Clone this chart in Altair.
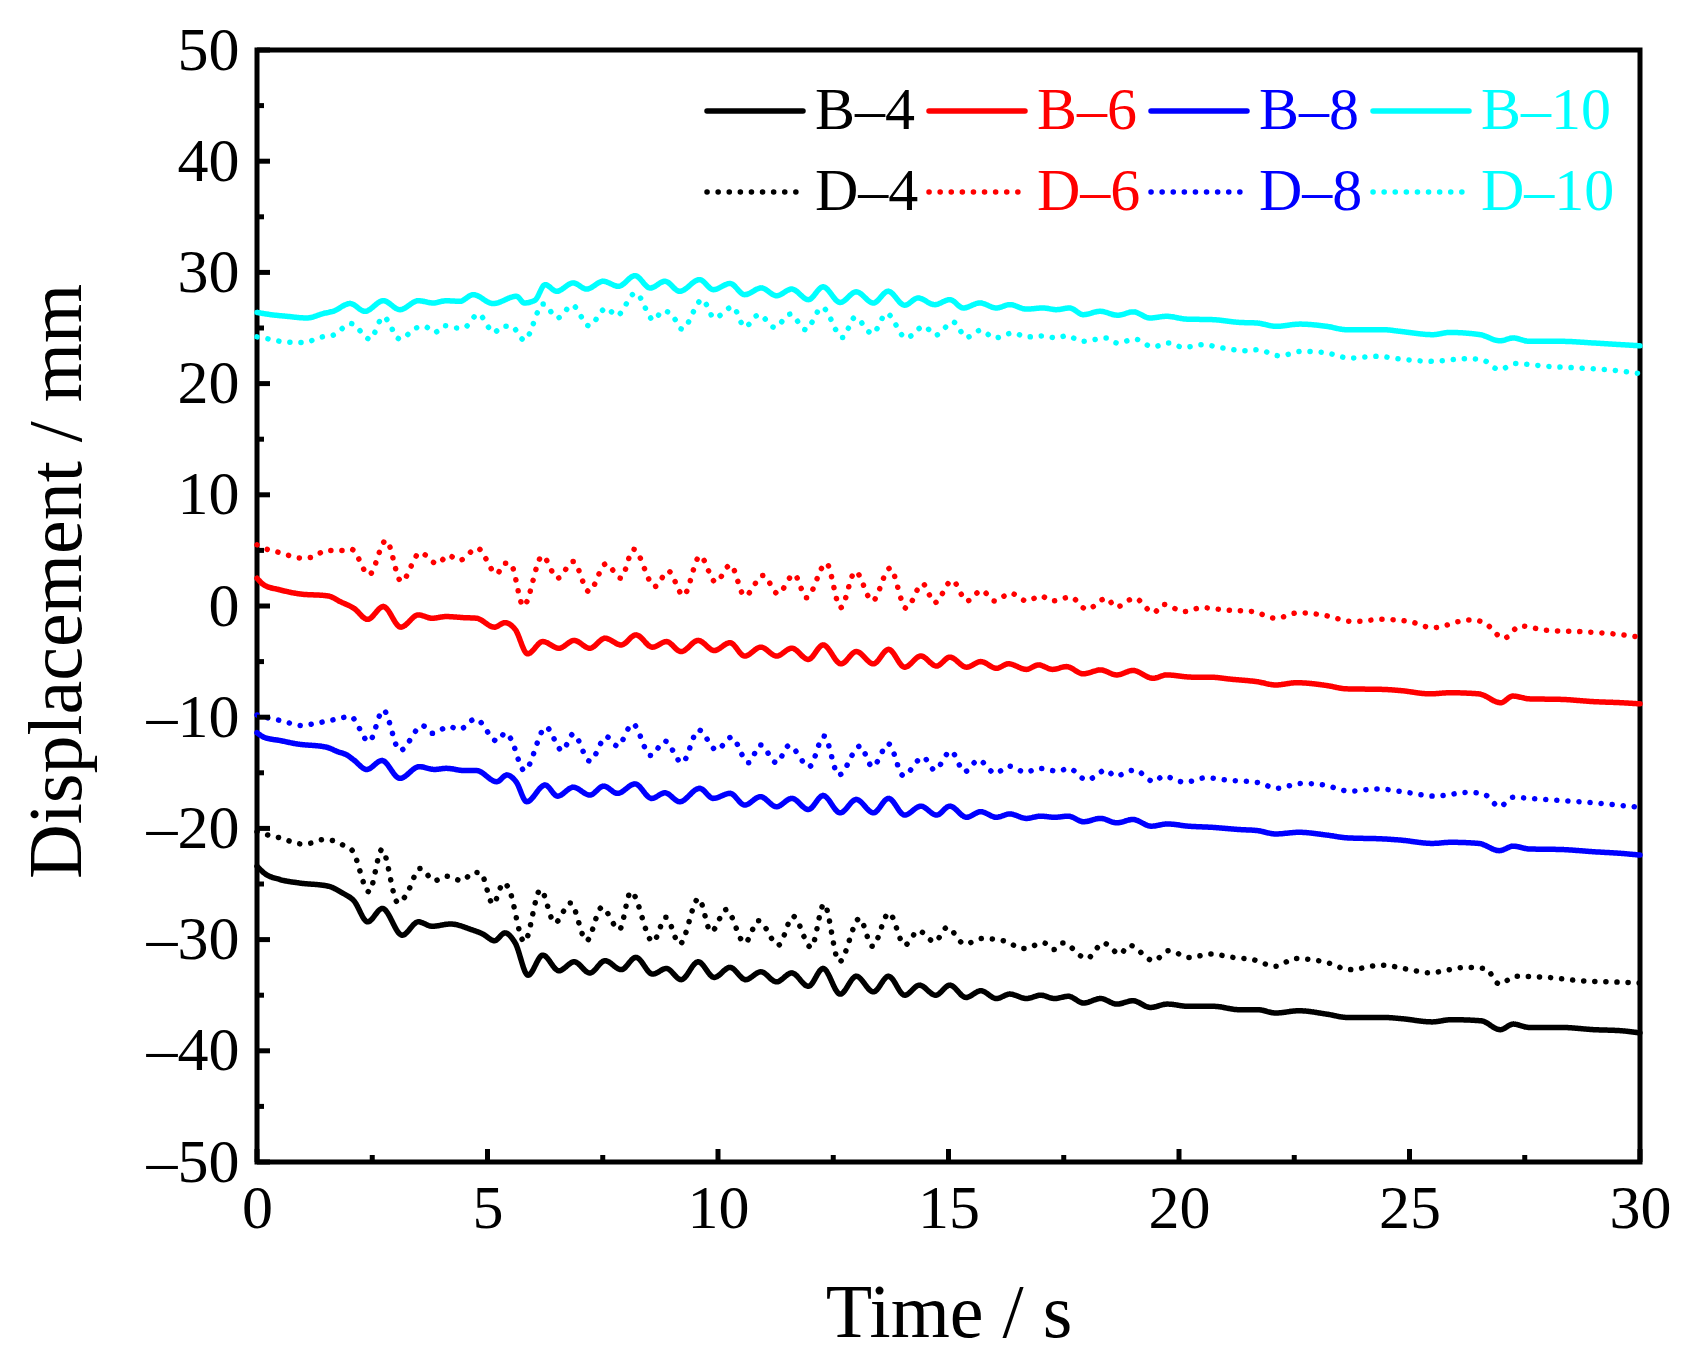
import altair as alt
import pandas as pd

# ---------------- data ----------------
series = ["B–4", "B–6", "B–8", "B–10", "D–4", "D–6", "D–8", "D–10"]
colors = ["#000000", "#FF0000", "#0000FF", "#00FFFF",
          "#000000", "#FF0000", "#0000FF", "#00FFFF"]

t_b4 = [0, 0.15, 0.5, 0.9, 1.55, 1.85, 2.1, 2.4, 2.72, 3.15, 3.5, 3.8, 4.2, 4.65, 4.9, 5.15, 5.38, 5.6,
        5.88, 6.2, 6.55, 6.88, 7.22, 7.55, 7.9, 8.22, 8.58, 8.88, 9.2, 9.57, 9.92, 10.26, 10.6, 10.93,
        11.27, 11.6, 11.96, 12.28, 12.65, 13.0, 13.37, 13.7, 14.05, 14.37, 14.72, 15.03, 15.38, 15.7,
        16.04, 16.33, 16.69, 17.0, 17.3, 17.6, 17.93, 18.3, 18.65, 19.0, 19.38, 19.75, 20.2, 20.75,
        21.3, 21.7, 22.1, 22.6, 23.2, 23.65, 24.45, 24.8, 25.5, 25.9, 26.55, 26.97, 27.25, 27.6, 28.3,
        29.0, 29.6, 30]
v_b4 = [-23.4, -24.0, -24.6, -24.9, -25.2, -25.8, -26.5, -28.4, -27.2, -29.6, -28.4, -28.8, -28.6,
        -29.1, -29.5, -30.1, -29.4, -30.3, -33.2, -31.4, -32.8, -32.0, -33.0, -31.9, -32.7, -31.6,
        -33.1, -32.6, -33.6, -32.0, -33.4, -32.5, -33.6, -32.9, -33.8, -33.0, -34.2, -32.6, -34.9,
        -33.3, -34.7, -33.3, -35.0, -34.1, -35.0, -34.1, -35.2, -34.6, -35.3, -34.9, -35.3, -35.0,
        -35.3, -35.1, -35.7, -35.3, -35.8, -35.5, -36.1, -35.8, -36.0, -36.0, -36.3, -36.3, -36.6,
        -36.4, -36.7, -37.0, -37.0, -37.1, -37.4, -37.2, -37.3, -38.1, -37.6, -37.9, -37.9, -38.1,
        -38.2, -38.4]

t_b6 = [0, 0.15, 0.5, 0.9, 1.55, 1.8, 2.1, 2.4, 2.74, 3.12, 3.5, 3.8, 4.1, 4.5, 4.76, 5.15, 5.38, 5.6,
        5.87, 6.2, 6.55, 6.88, 7.22, 7.55, 7.9, 8.22, 8.58, 8.88, 9.2, 9.57, 9.92, 10.26, 10.58, 10.93,
        11.27, 11.6, 11.96, 12.28, 12.67, 13.0, 13.37, 13.7, 14.05, 14.4, 14.74, 15.03, 15.39, 15.7,
        16.04, 16.3, 16.69, 16.95, 17.26, 17.56, 17.92, 18.3, 18.65, 19.0, 19.44, 19.73, 20.3, 20.66,
        21.17, 21.68, 22.1, 22.55, 23.2, 23.63, 24.43, 24.79, 25.45, 25.88, 26.5, 26.98, 27.24, 27.6,
        28.3, 29.0, 29.6, 30]
v_b6 = [2.5, 1.9, 1.45, 1.1, 0.9, 0.4, -0.2, -1.2, -0.05, -1.9, -0.8, -1.1, -0.95, -1.05, -1.1, -1.9,
        -1.5, -2.1, -4.3, -3.2, -3.8, -3.1, -3.8, -2.9, -3.5, -2.6, -3.7, -3.2, -4.1, -3.1, -4.0, -3.3,
        -4.5, -3.7, -4.5, -3.8, -4.8, -3.5, -5.2, -4.1, -5.2, -3.9, -5.5, -4.5, -5.4, -4.6, -5.5, -5.0,
        -5.6, -5.2, -5.7, -5.3, -5.7, -5.45, -6.1, -5.75, -6.2, -5.8, -6.5, -6.2, -6.4, -6.4, -6.6,
        -6.8, -7.1, -6.9, -7.15, -7.45, -7.5, -7.6, -7.9, -7.8, -7.9, -8.7, -8.1, -8.35, -8.4, -8.6,
        -8.7, -8.8]

t_b8 = [0, 0.15, 0.5, 0.86, 1.51, 1.75, 1.95, 2.1, 2.38, 2.71, 3.1, 3.52, 3.85, 4.11, 4.5, 4.76, 5.2,
        5.42, 5.62, 5.85, 6.25, 6.52, 6.86, 7.22, 7.52, 7.82, 8.2, 8.56, 8.85, 9.17, 9.6, 9.9, 10.26,
        10.58, 10.92, 11.27, 11.6, 11.96, 12.28, 12.65, 13.0, 13.37, 13.7, 14.05, 14.4, 14.74, 15.03,
        15.39, 15.7, 16.04, 16.33, 16.69, 17.0, 17.3, 17.6, 17.93, 18.3, 18.65, 19.0, 19.4, 19.75,
        20.2, 20.7, 21.3, 21.7, 22.1, 22.6, 23.2, 23.65, 24.45, 24.8, 25.5, 25.9, 26.5, 26.95, 27.25,
        27.6, 28.3, 29.0, 29.6, 30]
v_b8 = [-11.4, -11.8, -12.1, -12.4, -12.7, -13.1, -13.4, -13.85, -14.7, -13.9, -15.5, -14.45, -14.7,
        -14.6, -14.8, -14.8, -15.8, -15.2, -15.8, -17.6, -16.1, -17.1, -16.3, -17.0, -16.2, -16.85,
        -16.0, -17.3, -16.8, -17.6, -16.4, -17.3, -16.85, -17.9, -17.15, -18.05, -17.3, -18.3, -17.05,
        -18.6, -17.4, -18.6, -17.3, -18.8, -18.0, -18.8, -18.0, -19.0, -18.5, -19.0, -18.7, -19.1,
        -18.9, -19.0, -18.9, -19.4, -19.1, -19.5, -19.2, -19.8, -19.6, -19.8, -19.9, -20.1, -20.2,
        -20.5, -20.35, -20.6, -20.85, -20.95, -21.05, -21.35, -21.25, -21.35, -22.0, -21.6, -21.85,
        -21.9, -22.1, -22.25, -22.4]

t_b10 = [0, 0.3, 0.65, 1.08, 1.44, 1.65, 2.02, 2.34, 2.74, 3.1, 3.5, 3.82, 4.11, 4.4, 4.69, 5.12,
         5.63, 5.8, 6.03, 6.25, 6.5, 6.86, 7.15, 7.51, 7.84, 8.2, 8.53, 8.85, 9.17, 9.6, 9.9, 10.26,
         10.58, 10.94, 11.27, 11.6, 11.96, 12.28, 12.65, 13.0, 13.37, 13.69, 14.05, 14.34, 14.7,
         15.03, 15.32, 15.68, 16.04, 16.33, 16.69, 17.05, 17.34, 17.63, 17.92, 18.29, 18.67, 19.01,
         19.37, 19.73, 20.16, 20.74, 21.32, 21.68, 22.11, 22.62, 23.2, 23.63, 24.43, 24.79, 25.51,
         25.87, 26.53, 26.96, 27.25, 27.6, 28.3, 29.0, 29.6, 30]
v_b10 = [26.4, 26.2, 26.05, 25.9, 26.3, 26.5, 27.2, 26.5, 27.45, 26.65, 27.45, 27.25, 27.45, 27.4,
         28.0, 27.2, 27.85, 27.25, 27.5, 28.9, 28.3, 29.05, 28.5, 29.2, 28.75, 29.7, 28.6, 29.2, 28.3,
         29.35, 28.45, 29.0, 28.0, 28.6, 27.9, 28.5, 27.55, 28.7, 27.3, 28.25, 27.25, 28.3, 27.05,
         27.7, 27.1, 27.55, 26.8, 27.25, 26.8, 27.1, 26.7, 26.8, 26.65, 26.8, 26.2, 26.5, 26.15, 26.45,
         25.9, 26.05, 25.8, 25.75, 25.5, 25.45, 25.15, 25.35, 25.15, 24.85, 24.85, 24.7, 24.4, 24.6,
         24.4, 23.85, 24.1, 23.8, 23.8, 23.65, 23.5, 23.4]

t_d4 = [0, 0.24, 0.5, 0.97, 1.2, 1.44, 1.65, 1.91, 2.07, 2.43, 2.71, 3.06, 3.22, 3.54, 3.85, 4.1, 4.45,
        4.7, 4.85, 5.12, 5.35, 5.45, 5.8, 6.15, 6.46, 6.8, 7.15, 7.48, 7.86, 8.11, 8.59, 8.87, 9.17,
        9.58, 9.85, 10.18, 10.58, 10.88, 11.31, 11.63, 12.02, 12.3, 12.63, 13.07, 13.35, 13.71, 14.05,
        14.35, 14.7, 14.97, 15.35, 15.74, 16.19, 16.63, 17.07, 17.29, 17.48, 18.0, 18.36, 18.72,
        18.92, 19.45, 19.78, 20.22, 20.7, 21.17, 21.6, 22.09, 22.53, 23.24, 23.69, 24.4, 25.0, 25.45,
        25.75, 26.21, 26.65, 26.95, 27.3, 28.0, 28.7, 29.4, 30]
v_d4 = [-20.3, -20.6, -20.85, -21.4, -21.3, -21.0, -21.1, -21.6, -22.0, -25.7, -21.9, -26.7, -26.1,
        -23.6, -24.7, -24.3, -24.7, -23.95, -24.0, -26.8, -24.9, -25.3, -30.2, -25.5, -28.5, -26.7,
        -30.1, -27.1, -29.1, -25.7, -30.2, -28.0, -30.4, -26.3, -29.3, -27.3, -30.3, -28.3, -30.5,
        -27.9, -30.7, -26.8, -32.0, -28.1, -30.6, -27.6, -30.5, -29.2, -30.2, -28.9, -30.4, -29.9,
        -30.1, -30.8, -30.3, -30.9, -30.3, -31.7, -30.3, -31.3, -30.5, -31.9, -31.0, -31.6, -31.3,
        -31.6, -31.8, -32.4, -31.7, -32.1, -32.7, -32.3, -32.7, -33.0, -32.8, -32.5, -32.6, -34.0,
        -33.3, -33.4, -33.7, -33.8, -33.9]

t_d6 = [0, 0.25, 0.5, 0.97, 1.21, 1.5, 1.85, 2.05, 2.43, 2.8, 3.13, 3.54, 3.91, 4.15, 4.39, 4.78, 5.2,
        5.38, 5.5, 5.78, 6.19, 6.52, 6.86, 7.2, 7.57, 7.89, 8.17, 8.63, 8.92, 9.25, 9.61, 9.95, 10.27,
        10.58, 10.98, 11.3, 11.65, 11.92, 12.35, 12.66, 12.98, 13.35, 13.73, 14.08, 14.44, 14.7,
        15.08, 15.4, 15.72, 16.0, 16.35, 16.7, 17.0, 17.25, 17.65, 18.0, 18.43, 18.63, 19.04, 19.45,
        19.66, 20.11, 20.5, 21.0, 21.6, 22.1, 22.6, 23.1, 23.8, 24.4, 25.0, 25.5, 26.3, 26.6, 27.05,
        27.4, 28.0, 28.7, 29.4, 30]
v_d6 = [5.5, 5.05, 4.8, 4.3, 4.4, 5.0, 5.0, 5.1, 2.8, 5.9, 2.2, 4.8, 3.8, 4.55, 4.1, 5.2, 2.9, 3.85,
        3.8, 0.0, 4.5, 2.5, 4.0, 1.3, 3.8, 2.5, 5.1, 1.75, 3.15, 0.95, 4.5, 2.15, 3.7, 0.9, 2.75, 1.1,
        2.85, 0.75, 3.85, -0.15, 3.1, 0.45, 3.4, -0.2, 2.0, 0.3, 2.3, 0.45, 1.4, 0.45, 1.15, 0.45, 0.9,
        0.45, 0.8, -0.3, 0.7, -0.1, 0.7, -0.6, 0.15, -0.5, -0.15, -0.35, -0.5, -1.1, -0.6, -0.8, -1.4,
        -1.2, -1.4, -1.95, -1.25, -1.45, -2.9, -1.8, -2.2, -2.3, -2.5, -2.8]

t_d8 = [0, 0.27, 0.51, 0.98, 1.22, 1.64, 2.03, 2.43, 2.74, 3.1, 3.59, 3.8, 4.17, 4.39, 4.74, 5.21,
        5.39, 5.5, 5.8, 6.27, 6.62, 6.86, 7.22, 7.58, 7.82, 8.15, 8.54, 8.85, 9.22, 9.58, 9.97, 10.29,
        10.66, 10.92, 11.27, 11.54, 11.98, 12.3, 12.62, 13.08, 13.35, 13.7, 14.02, 14.45, 14.7, 15.05,
        15.35, 15.65, 16.02, 16.3, 16.68, 16.95, 17.38, 17.61, 18.0, 18.42, 18.61, 19.04, 19.46,
        19.66, 20.13, 20.58, 21.04, 21.75, 22.1, 22.67, 23.15, 23.7, 24.3, 25.0, 25.55, 26.3, 26.65,
        26.95, 27.25, 27.6, 28.3, 29.0, 29.5, 30]
v_d8 = [-9.8, -10.1, -10.3, -10.75, -10.6, -10.25, -9.95, -12.2, -9.35, -13.0, -10.75, -11.45, -10.85,
        -11.1, -10.15, -12.15, -11.4, -11.9, -14.8, -10.9, -13.0, -11.5, -13.95, -11.75, -12.6, -10.6,
        -13.45, -12.15, -14.1, -11.15, -12.95, -11.8, -14.1, -12.5, -14.1, -12.55, -14.45, -11.7,
        -15.2, -12.6, -14.45, -12.4, -15.25, -13.6, -14.75, -13.05, -14.9, -13.85, -15.05, -14.4,
        -14.95, -14.6, -14.85, -14.6, -15.65, -14.75, -15.3, -14.75, -15.8, -15.3, -15.85, -15.45,
        -15.65, -15.9, -16.4, -15.95, -16.1, -16.65, -16.45, -16.8, -17.1, -16.75, -17.0, -18.05,
        -17.2, -17.3, -17.5, -17.7, -17.9, -18.1]

t_d10 = [0, 0.27, 0.6, 1.0, 1.42, 1.65, 2.04, 2.45, 2.74, 3.1, 3.45, 3.63, 3.86, 4.06, 4.35, 4.5, 4.8,
         5.14, 5.32, 5.52, 5.8, 6.21, 6.52, 6.84, 7.2, 7.58, 7.8, 8.21, 8.61, 8.8, 8.99, 9.22, 9.66,
         9.92, 10.32, 10.58, 10.89, 11.23, 11.57, 11.9, 12.26, 12.7, 12.97, 13.35, 13.66, 14.08,
         14.47, 14.72, 15.1, 15.39, 15.7, 16.0, 16.4, 16.7, 17.09, 17.33, 17.57, 17.9, 18.43, 18.66,
         19.05, 19.43, 19.78, 20.1, 20.5, 20.96, 21.45, 21.7, 22.18, 22.67, 23.15, 23.7, 24.3, 24.82,
         25.5, 26.25, 26.6, 26.95, 27.3, 28.0, 28.7, 29.4, 30]
v_d10 = [24.2, 24.0, 23.75, 23.7, 24.2, 24.35, 25.4, 24.0, 26.0, 24.0, 25.0, 25.15, 24.6, 25.2, 25.0,
         25.05, 26.25, 24.6, 25.15, 25.15, 23.9, 27.15, 25.9, 27.05, 25.2, 26.8, 26.1, 28.15, 25.7,
         26.55, 26.25, 24.9, 27.55, 25.9, 26.9, 25.1, 26.2, 25.05, 26.25, 24.85, 26.85, 24.15, 25.95,
         24.5, 26.3, 24.1, 25.15, 24.35, 25.55, 24.15, 24.8, 24.1, 24.55, 24.2, 24.3, 24.1, 24.3,
         23.8, 24.1, 23.65, 24.0, 23.3, 23.65, 23.25, 23.5, 23.2, 22.95, 23.05, 22.5, 22.9, 22.8,
         22.3, 22.45, 22.2, 22.0, 22.25, 22.1, 21.25, 21.8, 21.55, 21.4, 21.2, 20.9]

x_major_ticks = [0, 5, 10, 15, 20, 25, 30]
x_minor_ticks = [2.5, 7.5, 12.5, 17.5, 22.5, 27.5]
y_major_ticks = [-50, -40, -30, -20, -10, 0, 10, 20, 30, 40, 50]
y_minor_ticks = [-45, -35, -25, -15, -5, 5, 15, 25, 35, 45]

# ---------------- build table ----------------
times = [t_b4, t_b6, t_b8, t_b10, t_d4, t_d6, t_d8, t_d10]
vals = [v_b4, v_b6, v_b8, v_b10, v_d4, v_d6, v_d8, v_d10]
rows = []
for name, ts, vs in zip(series, times, vals):
    for t, v in zip(ts, vs):
        rows.append({"series": name, "t": t, "v": v})
df = pd.DataFrame(rows)

W, H = 1383, 1112
FONT = "Liberation Serif"
LW = 5.5
DOT = [0.1, 11]
dashes = [[1, 0]] * 4 + [DOT] * 4
MINUS_EXPR = "replace(replace(datum.label, '\u2212', '\u2013'), '-', '\u2013')"

x_scale = alt.Scale(domain=[0, 30], nice=False, zero=False)
y_scale = alt.Scale(domain=[-50, 50], nice=False, zero=False)
x_axis = alt.Axis(values=x_major_ticks, title="Time / s", labelPadding=16,
                  titlePadding=37, tickSize=0, labelFlush=False, labelOverlap=False)
y_axis = alt.Axis(values=y_major_ticks, title="Displacement / mm", labelPadding=18,
                  titlePadding=50, tickSize=0, labelFlush=False, labelOverlap=False,
                  labelExpr=MINUS_EXPR, titleY=531)

lines = alt.Chart(df).mark_line(
    strokeWidth=LW, strokeCap="round", interpolate="monotone"
).encode(
    x=alt.X("t:Q", scale=x_scale, axis=x_axis),
    y=alt.Y("v:Q", scale=y_scale, axis=y_axis),
    color=alt.Color("series:N", scale=alt.Scale(domain=series, range=colors),
                    sort=series, legend=None),
    strokeDash=alt.StrokeDash("series:N", scale=alt.Scale(domain=series, range=dashes),
                              sort=series, legend=None),
)


def xticks(vals_, length):
    return alt.Chart(pd.DataFrame({"t": vals_})).mark_rule(
        color="black", strokeWidth=5).encode(
        x=alt.X("t:Q", scale=x_scale, axis=x_axis),
        y=alt.value(H), y2=alt.value(H - length))


def yticks(vals_, length):
    return alt.Chart(pd.DataFrame({"v": vals_})).mark_rule(
        color="black", strokeWidth=5).encode(
        y=alt.Y("v:Q", scale=y_scale, axis=y_axis),
        x=alt.value(0), x2=alt.value(length))


# ---------------- legend (drawn by hand: 2 rows x 4 columns) ----------------
LEG_X0, LEG_COL, LEG_Y0, LEG_ROW, SYM_LEN, LAB_OFF = 450, 222, 61, 81, 96, 12
legend_layers = []
for i, name in enumerate(series):
    col, row = i % 4, i // 4
    x0 = LEG_X0 + col * LEG_COL
    yy = LEG_Y0 + row * LEG_ROW
    one = pd.DataFrame({"series": [name]})
    sym = alt.Chart(one).mark_rule(
        strokeWidth=LW, strokeCap="round",
        strokeDash=(DOT if name.startswith("D") else [1, 0]),
    ).encode(
        x=alt.value(x0), x2=alt.value(x0 + SYM_LEN), y=alt.value(yy),
        color=alt.value(colors[i]),
    )
    lab = alt.Chart(one).mark_text(
        align="left", baseline="middle", font=FONT, fontSize=60,
    ).encode(
        x=alt.value(x0 + SYM_LEN + LAB_OFF), y=alt.value(yy),
        text="series:N", color=alt.value(colors[i]),
    )
    legend_layers += [sym, lab]

chart = alt.layer(
    lines,
    xticks(x_major_ticks, 13), xticks(x_minor_ticks, 7),
    yticks(y_major_ticks, 13), yticks(y_minor_ticks, 7),
    *legend_layers,
).properties(
    width=W, height=H,
    autosize=alt.AutoSizeParams(type="none"),
    padding={"left": 249, "top": 42, "right": 40, "bottom": 194},
    background="white",
).configure_view(
    stroke="black", strokeWidth=5
).configure_axis(
    domain=False, ticks=False, grid=False,
    labelFont=FONT, labelFontSize=62, labelColor="black",
    titleFont=FONT, titleFontSize=76, titleFontWeight="normal", titleColor="black",
)

chart.save("out.html", embed_options={"renderer": "svg", "actions": False})
